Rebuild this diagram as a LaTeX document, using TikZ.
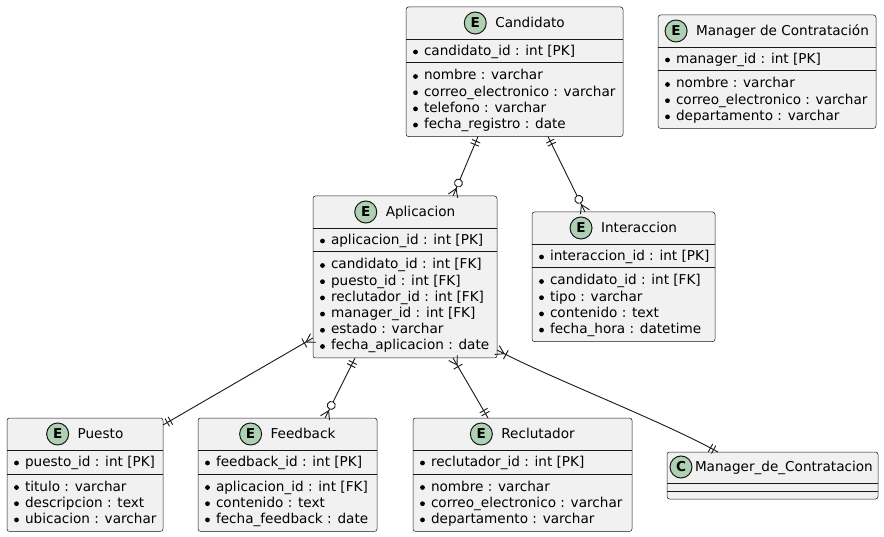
\documentclass[tikz,border=0pt]{standalone}
\usepackage{fontspec}
\setmainfont{DejaVu Sans}
\usetikzlibrary{decorations.markings,calc}

\definecolor{boxfill}{HTML}{F1F1F1}
\definecolor{ink}{HTML}{181818}
\definecolor{badge}{HTML}{ADD1B2}

\tikzset{
  entbox/.style={draw=ink, line width=0.5pt, fill=boxfill, rounded corners=2.5pt,
    inner sep=0pt, outer sep=0pt},
  sep/.style={draw=ink, line width=0.5pt},
  keysep/.style={draw=ink, line width=1pt},
  txt/.style={inner sep=0pt, outer sep=0pt, anchor=base west,
    font=\fontsize{13.6pt}{16pt}\selectfont, text=black},
  badgecirc/.style={circle, draw=ink, line width=1pt, fill=badge, minimum size=22pt,
    inner sep=0pt, font=\bfseries\fontsize{13.6pt}{14pt}\selectfont},
  conn/.style={draw=ink, line width=0.9pt},
  mk/.style={draw=ink, line width=0.9pt},
  startmark/.style={postaction={decorate,decoration={markings,
    mark=at position 0 with {#1}}}},
  endmark/.style={postaction={decorate,decoration={markings,
    mark=at position 1 with {\begin{scope}[xscale=-1]#1\end{scope}}}}},
}

% crow's foot ends, drawn in the frame of the line (x points away from the entity)
\newcommand\markOne{\draw[mk] (5pt,-4.5pt) -- (5pt,4.5pt) (8.5pt,-4.5pt) -- (8.5pt,4.5pt);}
\newcommand\markZeroMany{\draw[mk] (0pt,-5pt) -- (8pt,0pt) -- (0pt,5pt);
  \draw[mk, fill=white] (14pt,0pt) circle (4pt);}
\newcommand\markOneMany{\draw[mk] (0pt,-5pt) -- (8pt,0pt) -- (0pt,5pt) (10pt,-5pt) -- (10pt,5pt);}

% entity box: #1 name, #2 left, #3 top, #4 width, #5 title,
% #6 key attribute, #7 other attributes, #8 number of other attributes
\newcommand\entity[8]{%
  \node[entbox, anchor=north west, minimum width=#4pt,
        minimum height={(81+(#8-1)*16.2)*1pt}] (#1) at (#2,#3) {};
  \draw[sep] (#2,#3+32) -- ++(#4,0);
  \draw[keysep] (#2,#3+56) -- ++(#4,0);
  \node[txt, anchor=base] (#1-t) at (#2+#4/2+15.5, #3+20.5) {#5};
  \node[badgecirc] at ([xshift=-20pt, yshift=4.5pt]#1-t.base west) {E};
  \fill (#2+9.5,#3+45) circle (2.4pt);
  \node[txt] at (#2+18,#3+48.5) {#6};
  \foreach \r [count=\i from 0] in {#7} {
    \fill (#2+9.5,#3+69.5+\i*16.2) circle (2.4pt);
    \node[txt] at (#2+18,#3+73+\i*16.2) {\r};
  }
}

\begin{document}
\begin{tikzpicture}[x=1pt, y=-1pt]
  \fill[white] (0,0) rectangle (884,537);
  \useasboundingbox (0,0) rectangle (884,537);

  \entity{cand}{406}{7}{217}{Candidato}{candidato\_id : int [PK]}
    {nombre : varchar, correo\_electronico : varchar, telefono : varchar, fecha\_registro : date}{4}
  \entity{mgr}{658}{15}{218}{Manager de Contratación}{manager\_id : int [PK]}
    {nombre : varchar, correo\_electronico : varchar, departamento : varchar}{3}
  \entity{apl}{313}{196}{184}{Aplicacion}{aplicacion\_id : int [PK]}
    {candidato\_id : int [FK], puesto\_id : int [FK], reclutador\_id : int [FK],
     manager\_id : int [FK], estado : varchar, fecha\_aplicacion : date}{6}
  \entity{inter}{532}{212}{183}{Interaccion}{interaccion\_id : int [PK]}
    {candidato\_id : int [FK], tipo : varchar, contenido : text, fecha\_hora : datetime}{4}
  \entity{pue}{7}{418}{156}{Puesto}{puesto\_id : int [PK]}
    {titulo : varchar, descripcion : text, ubicacion : varchar}{3}
  \entity{feed}{198}{418}{179}{Feedback}{feedback\_id : int [PK]}
    {aplicacion\_id : int [FK], contenido : text, fecha\_feedback : date}{3}
  \entity{recl}{413}{418}{219}{Reclutador}{reclutador\_id : int [PK]}
    {nombre : varchar, correo\_electronico : varchar, departamento : varchar}{3}

  % plain class box
  \node[entbox, anchor=north west, minimum width=211pt, minimum height=47pt] (mgrc) at (667,452) {};
  \draw[sep] (667,483) -- (878,483);
  \draw[sep] (667,491) -- (878,491);
  \node[txt] (mgrc-t) at (695,471.5) {Manager\_de\_Contratacion};
  \node[badgecirc] at ([xshift=-14pt, yshift=4.5pt]mgrc-t.base west) {C};

  % relationships
  \draw[conn, startmark=\markOne, endmark=\markZeroMany]
    ([xshift=72pt]cand.south west) -- ([xshift=140pt]apl.north west);
  \draw[conn, startmark=\markOne, endmark=\markZeroMany]
    ([xshift=142pt]cand.south west) -- ([xshift=53pt]inter.north west);
  \draw[conn, startmark=\markOneMany, endmark=\markOne]
    ([yshift=20pt]apl.south west) -- ([yshift=-7pt]pue.north east);
  \draw[conn, startmark=\markOne, endmark=\markZeroMany]
    ([xshift=42pt]apl.south west) -- ([xshift=127pt]feed.north west);
  \draw[conn, startmark=\markOneMany, endmark=\markOne]
    ([xshift=140pt]apl.south west) -- ([xshift=75pt]recl.north west);
  \draw[conn, startmark=\markOneMany, endmark=\markOne]
    ([yshift=8pt]apl.south east) .. controls +(53,28) and +(-58,-32) .. ([xshift=51pt]mgrc.north west);
\end{tikzpicture}
\end{document}
